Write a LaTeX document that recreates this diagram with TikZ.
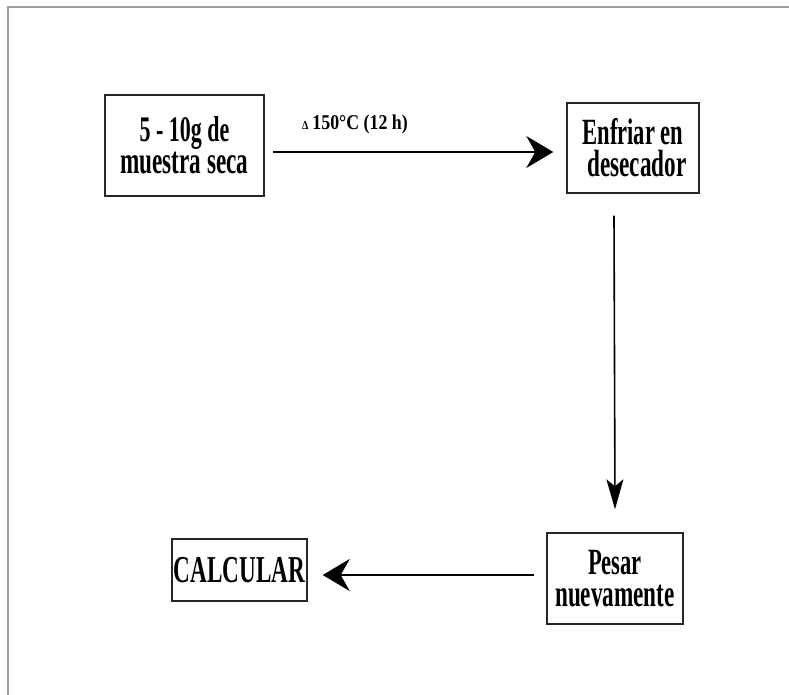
\documentclass[tikz,border=0pt]{standalone}
\usepackage{fontspec}
\setmainfont{Liberation Serif}
\newfontfamily\boxfont{Liberation Serif}[FakeStretch=0.61]
\newfontfamily\lblfont{Liberation Serif}[FakeStretch=0.85]
\usetikzlibrary{arrows.meta,calc}
\begin{document}
\begin{tikzpicture}[x=1pt,y=-1pt,
  stepbox/.style={draw=black!85, line width=1.4pt, inner sep=0pt, align=center,
    font=\boxfont\bfseries\fontsize{38}{32}\selectfont},
  harrow/.style={line width=2pt, -{Stealth[length=27pt,width=32pt,inset=9pt]}},
  varrow/.style={line width=1.6pt, -{Stealth[length=30pt,width=17pt,inset=7pt]}},
  lbl/.style={inner sep=0pt, anchor=base west, font=\lblfont\bfseries\fontsize{21}{22}\selectfont}
  ]
\useasboundingbox (0,0) rectangle (789,695);
\draw[gray!75, line width=2pt] (8,695) -- (8,7) -- (789,7);

\node[stepbox, minimum width=159pt, minimum height=101pt] (b1) at (184.5,145.5)
  {\fontsize{36}{43}\selectfont 5 - 10g de\\muestra seca};
\node[stepbox, minimum width=132pt, minimum height=90pt] (b2) at (633,148)
  {\fontsize{37}{32}\selectfont Enfriar en\\\hspace*{8pt}desecador};
\node[stepbox, minimum width=136pt, minimum height=91pt] (b3) at (615,578.5)
  {\fontsize{37}{38}\selectfont Pesar\\nuevamente};
\node[stepbox, minimum width=135pt, minimum height=62pt] (b4) at (239.5,570)
  {CALCULAR};

\draw[harrow] ($(b1.east)+(8,6.5)$) -- ($(b2.west)+(-13,4)$);
\node[lbl] (l1) at (302,130) {{\fontsize{12}{12}\selectfont ∆}\hspace{4pt}150°C (12 h)};
\draw[varrow] ($(b2.south)+(-19,22)$) -- ($(b3.north)+(0,-23)$);
\draw[harrow] ($(b3.west)+(-12,-3.5)$) -- ($(b4.east)+(15,5)$);
\end{tikzpicture}
\end{document}
